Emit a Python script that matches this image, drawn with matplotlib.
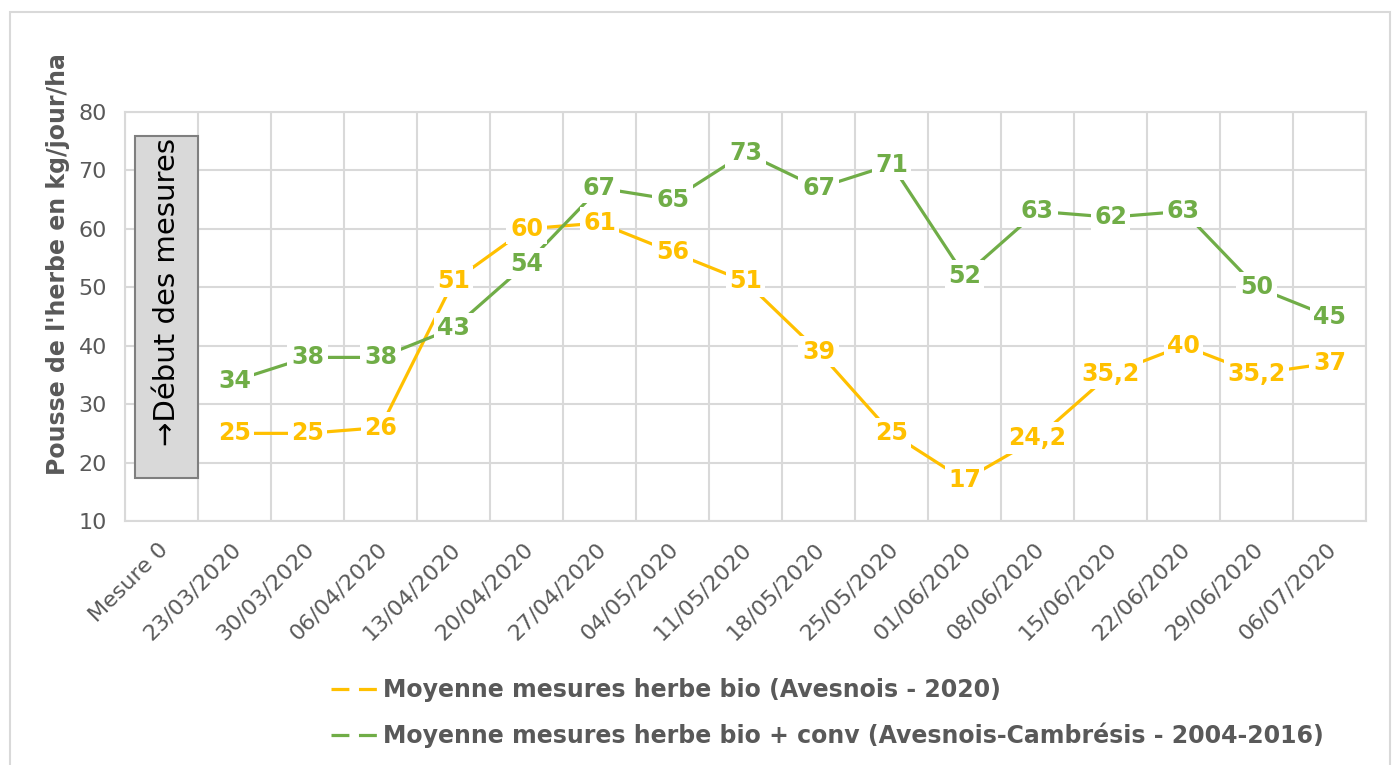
import matplotlib.pyplot as plt
import matplotlib.transforms as mtransforms
from matplotlib.lines import Line2D
from matplotlib.patches import Rectangle

# donnees
categories = ['Mesure 0', '23/03/2020', '30/03/2020', '06/04/2020', '13/04/2020',
              '20/04/2020', '27/04/2020', '04/05/2020', '11/05/2020', '18/05/2020',
              '25/05/2020', '01/06/2020', '08/06/2020', '15/06/2020', '22/06/2020',
              '29/06/2020', '06/07/2020']
bio_2020 = [None, 25, 25, 26, 51, 60, 61, 56, 51, 39, 25, 17, 24.2, 35.2, 40, 35.2, 37]
ref_2004_2016 = [None, 34, 38, 38, 43, 54, 67, 65, 73, 67, 71, 52, 63, 62, 63, 50, 45]

label_bio = 'Moyenne mesures herbe bio (Avesnois - 2020)'
label_ref = 'Moyenne mesures herbe bio + conv (Avesnois-Cambrésis - 2004-2016)'

jaune = '#FFC000'
vert = '#70AD47'
gris = '#595959'
grille = '#D9D9D9'

fig = plt.figure(figsize=(13.97, 7.65), dpi=100)
ax = fig.add_axes([125/1397, 1-521/765, (1366-125)/1397, (521-112)/765])

# cadre exterieur
fig.patches.append(Rectangle((10/1397, -0.02), (1390-10)/1397, 1-12/765+0.02,
                             transform=fig.transFigure, fill=False,
                             edgecolor=grille, lw=1.5))


def trace(values, color):
    xs = [i for i, v in enumerate(values) if v is not None]
    ys = [v for v in values if v is not None]
    ax.plot(xs, ys, color=color, lw=2.3, zorder=3, solid_capstyle='butt')
    for x, y in zip(xs, ys):
        txt = f'{y:g}'.replace('.', ',')
        ax.text(x, y, txt, color=color, fontsize=17, fontweight='bold',
                ha='center', va='center', zorder=4,
                bbox=dict(facecolor='white', edgecolor='none', pad=2.5))


trace(bio_2020, jaune)
trace(ref_2004_2016, vert)

ax.set_xlim(-0.5, len(categories) - 0.5)
ax.set_ylim(10, 80)
ax.set_yticks(range(10, 81, 10))
ax.set_xticks(range(len(categories)))
ax.set_xticklabels(categories, rotation=45, ha='right', rotation_mode='anchor')
ax.set_xticks([i - 0.5 for i in range(len(categories) + 1)], minor=True)
ax.grid(True, which='minor', axis='x', color=grille, lw=1.5)
ax.grid(True, which='major', axis='y', color=grille, lw=1.5)
ax.grid(False, which='major', axis='x')
ax.set_axisbelow(True)
ax.tick_params(axis='both', which='both', length=0, colors=gris, labelsize=16)
ax.tick_params(axis='y', pad=13)
ax.tick_params(axis='x', pad=13)
decal = mtransforms.ScaledTranslation(-4/100, 0, fig.dpi_scale_trans)
for lab in ax.get_xticklabels():
    lab.set_transform(lab.get_transform() + decal)
for s in ax.spines.values():
    s.set_color(grille)
    s.set_linewidth(1.5)

fig.text(58/1397, 1-264/765, "Pousse de l'herbe en kg/jour/ha", rotation=90,
         ha='center', va='center', fontsize=17, fontweight='bold', color=gris)

# encadre "debut des mesures"
ax.add_patch(Rectangle((-0.363, 17.4), 0.863, 58.5, facecolor='#D9D9D9',
                       edgecolor='#7F7F7F', lw=1.5, zorder=5))
ax.text(0.07, 49.2, '→Début des mesures', rotation=90, ha='center', va='center',
        fontsize=21, color='black', zorder=6)

handles = [Line2D([], [], color=jaune, lw=2.3, ls=(0, (5.6, 3))),
           Line2D([], [], color=vert, lw=2.3, ls=(0, (5.6, 3)))]
leg = fig.legend(handles, [label_bio, label_ref], loc='upper left',
                 bbox_to_anchor=(310/1397, 1-657/765), frameon=False,
                 handlelength=2.3, handletextpad=-0.1, labelspacing=0.85,
                 prop={'size': 17, 'weight': 'bold'})
for t in leg.get_texts():
    t.set_color(gris)

fig.savefig('out.png', dpi=100)
